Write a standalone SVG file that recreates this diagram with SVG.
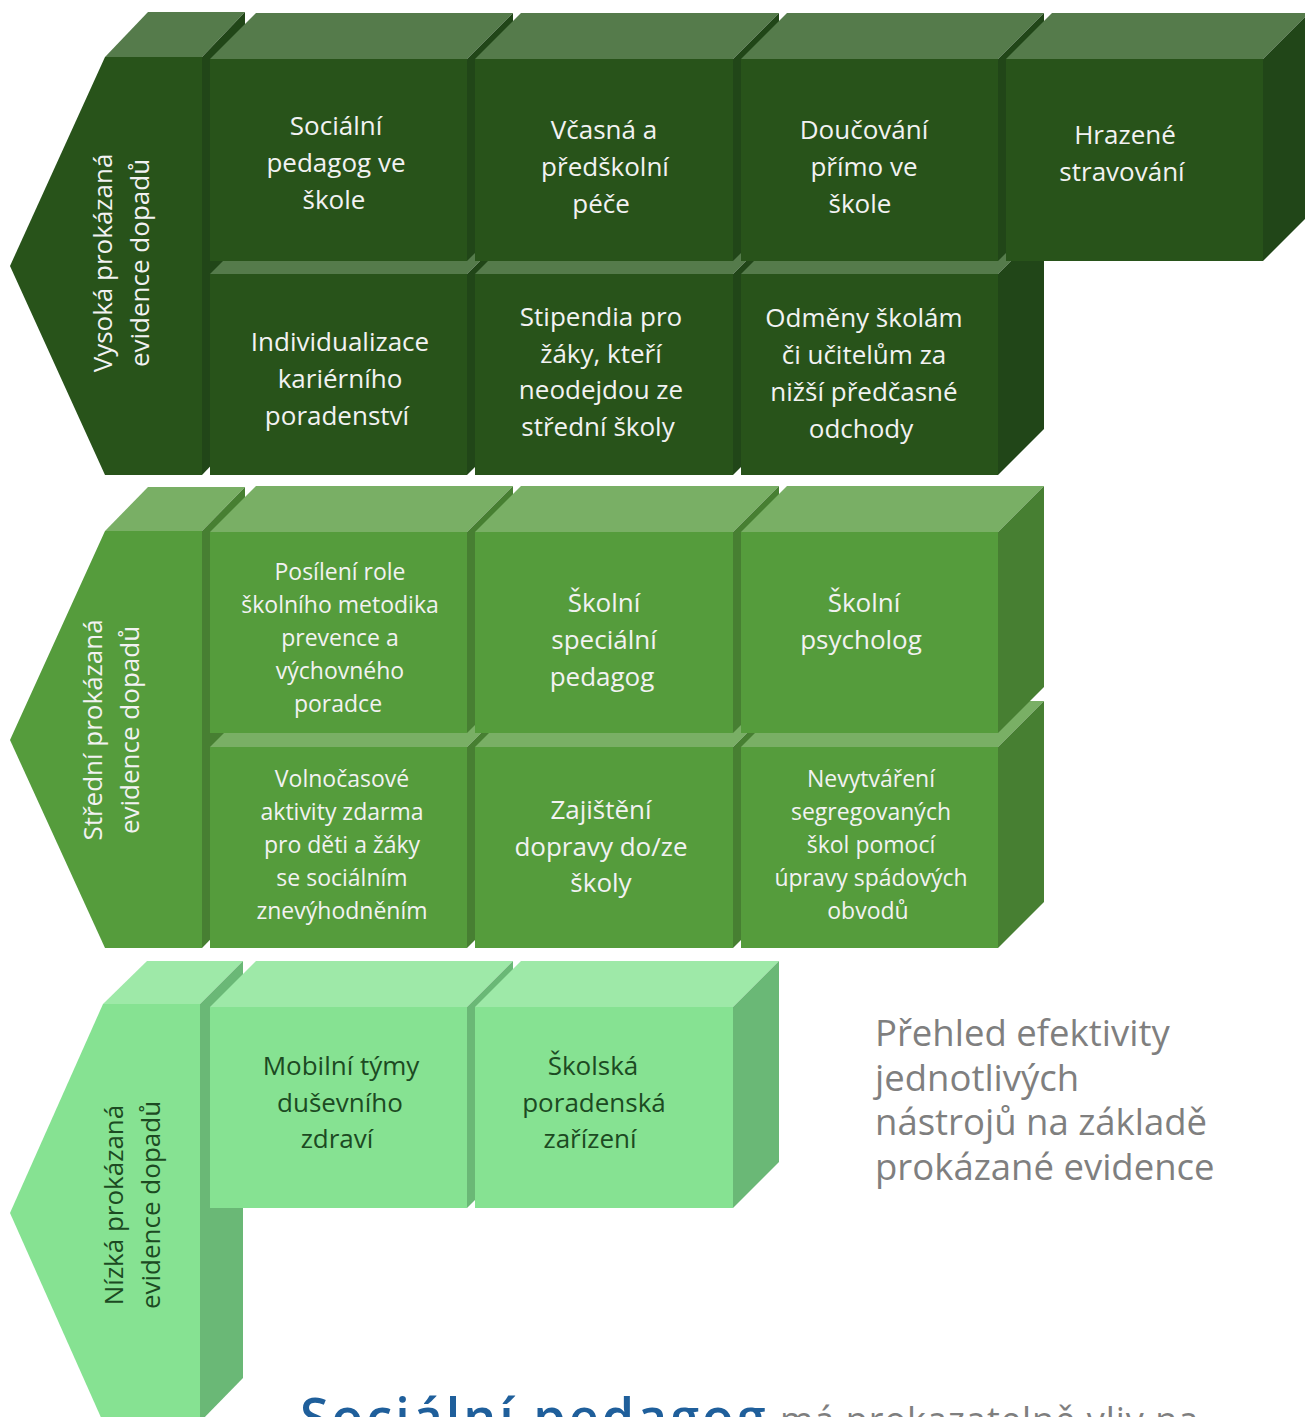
<svg xmlns="http://www.w3.org/2000/svg" width="1305" height="1417" viewBox="0 0 1305 1417">
<style>
.dF{fill:#28531a}.dT{fill:#557b4b}.dS{fill:#214618}
.mF{fill:#559c3c}.mT{fill:#79af65}.mS{fill:#477f32}
.lF{fill:#86e292}.lT{fill:#9ee9a8}.lS{fill:#6ab876}
text{font-family:"Open Sans","Noto Sans","DejaVu Sans",sans-serif;text-anchor:middle}
.w{fill:#f2f2f2;font-size:26px}
.ws{fill:#f2f2f2;font-size:23px}
.g{fill:#1c4a22;font-size:26px}
.lbl{font-size:26px}
</style>
<rect width="1305" height="1417" fill="#ffffff"/>

<!-- TOP SECTION -->
<g id="label-high">
<polygon class="dT" points="105,57 148,12 245,12 202,57"/>
<polygon class="dS" points="202,57 245,12 245,430 202,475"/>
<polygon class="dF" points="105,57 202,57 202,475 105,475 10,266"/>
<text class="lbl" fill="#f2f2f2" transform="translate(130,263) rotate(-90)"><tspan x="0" y="-18">Vysoká prokázaná</tspan><tspan x="0" y="19">evidence dopadů</tspan></text>
</g>

<g id="individualizace">
<polygon class="dT" points="210,274 256,228 513,228 467,274"/>
<polygon class="dS" points="467,274 513,228 513,429 467,475"/>
<rect class="dF" x="210" y="274" width="257" height="201"/>
<text class="w"><tspan x="340" y="351">Individualizace</tspan><tspan x="340" y="388">kariérního</tspan><tspan x="337" y="425">poradenství</tspan></text>
</g>
<g id="stipendia">
<polygon class="dT" points="475,274 521,228 779,228 733,274"/>
<polygon class="dS" points="733,274 779,228 779,429 733,475"/>
<rect class="dF" x="475" y="274" width="258" height="201"/>
<text class="w"><tspan x="601" y="326">Stipendia pro</tspan><tspan x="601" y="363">žáky, kteří</tspan><tspan x="601" y="399">neodejdou ze</tspan><tspan x="598" y="436">střední školy</tspan></text>
</g>
<g id="odmeny">
<polygon class="dT" points="741,274 787,228 1044,228 998,274"/>
<polygon class="dS" points="998,274 1044,228 1044,429 998,475"/>
<rect class="dF" x="741" y="274" width="257" height="201"/>
<text class="w"><tspan x="864" y="327">Odměny školám</tspan><tspan x="864" y="364">či učitelům za</tspan><tspan x="864" y="401">nižší předčasné</tspan><tspan x="861" y="438">odchody</tspan></text>
</g>

<g id="socialni-pedagog">
<polygon class="dT" points="210,59 256,13 513,13 467,59"/>
<polygon class="dS" points="467,59 513,13 513,215 467,261"/>
<rect class="dF" x="210" y="59" width="257" height="202"/>
<text class="w"><tspan x="336" y="135">Sociální</tspan><tspan x="336" y="172">pedagog ve</tspan><tspan x="334" y="209">škole</tspan></text>
</g>
<g id="vcasna-pece">
<polygon class="dT" points="475,59 521,13 779,13 733,59"/>
<polygon class="dS" points="733,59 779,13 779,215 733,261"/>
<rect class="dF" x="475" y="59" width="258" height="202"/>
<text class="w"><tspan x="604" y="139">Včasná a</tspan><tspan x="605" y="176">předškolní</tspan><tspan x="601" y="213">péče</tspan></text>
</g>
<g id="doucovani">
<polygon class="dT" points="741,59 787,13 1044,13 998,59"/>
<polygon class="dS" points="998,59 1044,13 1044,215 998,261"/>
<rect class="dF" x="741" y="59" width="257" height="202"/>
<text class="w"><tspan x="864" y="139">Doučování</tspan><tspan x="864" y="176">přímo ve</tspan><tspan x="860" y="213">škole</tspan></text>
</g>
<g id="hrazene-stravovani">
<polygon class="dT" points="1006,59 1052,13 1309,13 1263,59"/>
<polygon class="dS" points="1263,59 1309,13 1309,215 1263,261"/>
<rect class="dF" x="1006" y="59" width="257" height="202"/>
<text class="w"><tspan x="1125" y="144">Hrazené</tspan><tspan x="1122" y="181">stravování</tspan></text>
</g>

<!-- MIDDLE SECTION -->
<g id="label-medium">
<polygon class="mT" points="105,531 148,487 245,487 202,531"/>
<polygon class="mS" points="202,531 245,487 245,904 202,948"/>
<polygon class="mF" points="105,531 202,531 202,948 105,948 10,740"/>
<text class="lbl" fill="#f2f2f2" transform="translate(120,730) rotate(-90)"><tspan x="0" y="-18">Střední prokázaná</tspan><tspan x="0" y="19">evidence dopadů</tspan></text>
</g>

<g id="volnocasove-aktivity">
<polygon class="mT" points="210,747 256,701 513,701 467,747"/>
<polygon class="mS" points="467,747 513,701 513,902 467,948"/>
<rect class="mF" x="210" y="747" width="257" height="201"/>
<text class="ws"><tspan x="342" y="787">Volnočasové</tspan><tspan x="342" y="820">aktivity zdarma</tspan><tspan x="342" y="853">pro děti a žáky</tspan><tspan x="342" y="886">se sociálním</tspan><tspan x="342" y="919">znevýhodněním</tspan></text>
</g>
<g id="zajisteni-dopravy">
<polygon class="mT" points="475,747 521,701 779,701 733,747"/>
<polygon class="mS" points="733,747 779,701 779,902 733,948"/>
<rect class="mF" x="475" y="747" width="258" height="201"/>
<text class="w"><tspan x="601" y="819">Zajištění</tspan><tspan x="601" y="856">dopravy do/ze</tspan><tspan x="601" y="892">školy</tspan></text>
</g>
<g id="nevytvareni-segregovanych">
<polygon class="mT" points="741,747 787,701 1044,701 998,747"/>
<polygon class="mS" points="998,747 1044,701 1044,902 998,948"/>
<rect class="mF" x="741" y="747" width="257" height="201"/>
<text class="ws"><tspan x="871" y="787">Nevytváření</tspan><tspan x="871" y="820">segregovaných</tspan><tspan x="871" y="853">škol pomocí</tspan><tspan x="871" y="886">úpravy spádových</tspan><tspan x="868" y="919">obvodů</tspan></text>
</g>

<g id="posileni-role">
<polygon class="mT" points="210,532 256,486 513,486 467,532"/>
<polygon class="mS" points="467,532 513,486 513,687 467,733"/>
<rect class="mF" x="210" y="532" width="257" height="201"/>
<text class="ws"><tspan x="340" y="580">Posílení role</tspan><tspan x="340" y="613">školního metodika</tspan><tspan x="340" y="646">prevence a</tspan><tspan x="340" y="679">výchovného</tspan><tspan x="338" y="712">poradce</tspan></text>
</g>
<g id="skolni-specialni-pedagog">
<polygon class="mT" points="475,532 521,486 779,486 733,532"/>
<polygon class="mS" points="733,532 779,486 779,687 733,733"/>
<rect class="mF" x="475" y="532" width="258" height="201"/>
<text class="w"><tspan x="604" y="612">Školní</tspan><tspan x="604" y="649">speciální</tspan><tspan x="602" y="686">pedagog</tspan></text>
</g>
<g id="skolni-psycholog">
<polygon class="mT" points="741,532 787,486 1044,486 998,532"/>
<polygon class="mS" points="998,532 1044,486 1044,687 998,733"/>
<rect class="mF" x="741" y="532" width="257" height="201"/>
<text class="w"><tspan x="864" y="612">Školní</tspan><tspan x="861" y="649">psycholog</tspan></text>
</g>

<!-- BOTTOM SECTION -->
<g id="label-low">
<polygon class="lT" points="103,1004 147,961 243,961 200,1004"/>
<polygon class="lS" points="200,1004 243,961 243,1378 200,1422"/>
<polygon class="lF" points="103,1004 200,1004 200,1422 103,1422 10,1213"/>
<text class="lbl" fill="#1c4a22" transform="translate(141,1205) rotate(-90)"><tspan x="0" y="-18">Nízká prokázaná</tspan><tspan x="0" y="19">evidence dopadů</tspan></text>
</g>
<g id="mobilni-tymy">
<polygon class="lT" points="210,1007 256,961 513,961 467,1007"/>
<polygon class="lS" points="467,1007 513,961 513,1162 467,1208"/>
<rect class="lF" x="210" y="1007" width="257" height="201"/>
<text class="g"><tspan x="341" y="1075">Mobilní týmy</tspan><tspan x="340" y="1112">duševního</tspan><tspan x="337" y="1148">zdraví</tspan></text>
</g>
<g id="skolska-poradenska-zarizeni">
<polygon class="lT" points="475,1007 521,961 779,961 733,1007"/>
<polygon class="lS" points="733,1007 779,961 779,1162 733,1208"/>
<rect class="lF" x="475" y="1007" width="258" height="201"/>
<text class="g"><tspan x="593" y="1075">Školská</tspan><tspan x="594" y="1112">poradenská</tspan><tspan x="590" y="1148">zařízení</tspan></text>
</g>

<g id="connectors"></g>

<g id="caption">
<text fill="#7f7f7f" font-size="36.5" style="text-anchor:start"><tspan x="875" y="1046">Přehled efektivity</tspan><tspan x="875" y="1091">jednotlivých</tspan><tspan x="875" y="1135">nástrojů na základě</tspan><tspan x="875" y="1180">prokázané evidence</tspan></text>
</g>
<g id="footer">
<text x="300" y="1436" style="text-anchor:start;letter-spacing:3px" font-size="52" font-weight="600" fill="#1f5f9b">Sociální pedagog</text>
<text x="780" y="1433" style="text-anchor:start;letter-spacing:1px" font-size="36" fill="#7f7f7f">má prokazatelně vliv na</text>
</g>
</svg>
